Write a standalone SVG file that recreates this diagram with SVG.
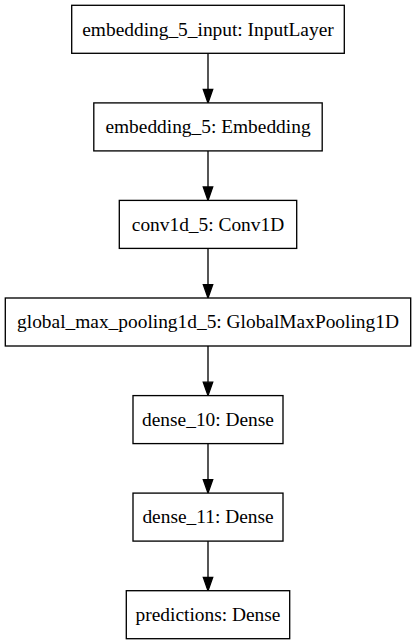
<svg xmlns="http://www.w3.org/2000/svg" width="416" height="644" viewBox="0 0 416 644">
<style>
.box{fill:#fff;stroke:#000;stroke-width:1.33}
.lbl{font-family:"Liberation Serif","Times New Roman",serif;font-size:19.4px;text-anchor:middle;fill:#000}
.edge{stroke:#000;stroke-width:1.33;fill:none}
.head{fill:#000;stroke:#000;stroke-width:1.33}
</style>
<rect width="416" height="644" fill="#fff"/>
<g id="connectors">
<path class="edge" d="M208,53.3V89.5"/><polygon class="head" points="203.3,89.5 208,102.9 212.7,89.5"/>
<path class="edge" d="M208,150.9V187"/><polygon class="head" points="203.3,187 208,200.4 212.7,187"/>
<path class="edge" d="M208,248.4V284.6"/><polygon class="head" points="203.3,284.6 208,298 212.7,284.6"/>
<path class="edge" d="M208,346V382.2"/><polygon class="head" points="203.3,382.2 208,395.6 212.7,382.2"/>
<path class="edge" d="M208,443.6V479.7"/><polygon class="head" points="203.3,479.7 208,493.1 212.7,479.7"/>
<path class="edge" d="M208,541.1V577.3"/><polygon class="head" points="203.3,577.3 208,590.7 212.7,577.3"/>
</g>
<g id="embedding_5_input"><rect class="box" x="71.7" y="5.3" width="272.6" height="48"/><text class="lbl" x="208" y="35.6">embedding_5_input: InputLayer</text></g>
<g id="embedding_5"><rect class="box" x="93.8" y="102.9" width="228.4" height="48"/><text class="lbl" x="208" y="133.2">embedding_5: Embedding</text></g>
<g id="conv1d_5"><rect class="box" x="119.3" y="200.4" width="177.4" height="48"/><text class="lbl" x="208" y="230.7">conv1d_5: Conv1D</text></g>
<g id="global_max_pooling1d_5"><rect class="box" x="5.3" y="298" width="405.4" height="48"/><text class="lbl" x="208" y="328.3">global_max_pooling1d_5: GlobalMaxPooling1D</text></g>
<g id="dense_10"><rect class="box" x="133" y="395.6" width="150" height="48"/><text class="lbl" x="208" y="425.9">dense_10: Dense</text></g>
<g id="dense_11"><rect class="box" x="133" y="493.1" width="150" height="48"/><text class="lbl" x="208" y="523.4">dense_11: Dense</text></g>
<g id="predictions"><rect class="box" x="126.3" y="590.7" width="163.4" height="48"/><text class="lbl" x="208" y="621">predictions: Dense</text></g>
</svg>
